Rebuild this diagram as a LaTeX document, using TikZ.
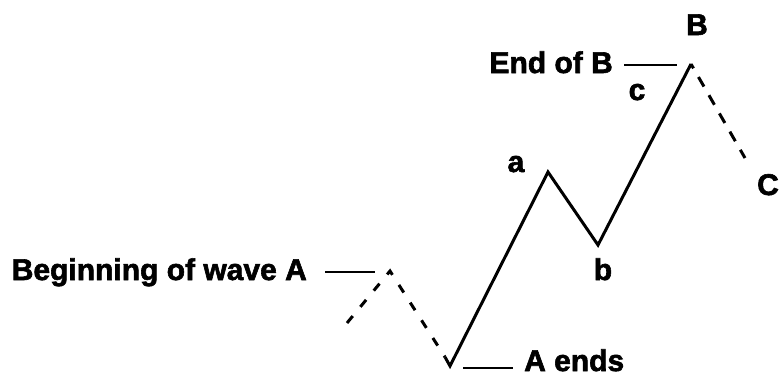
\documentclass[tikz,border=0pt]{standalone}
\usepackage{fontspec}
\setmainfont{Liberation Sans}
\newfontfamily\heavyfont{Liberation Sans Bold}[FakeBold=2]
\begin{document}
\begin{tikzpicture}[x=1pt,y=-1pt,
  lbl/.style={font=\fontsize{30}{32}\heavyfont, inner sep=0pt},
  wave/.style={line width=3pt, line join=miter, line cap=butt},
  dwave/.style={wave, dash pattern=on 9pt off 12pt},
  tick/.style={line width=1.6pt}]
\useasboundingbox (0,0) rectangle (780,378);
% wave points
\coordinate (s0) at (347,323);
\coordinate (p0) at (390,271);
\coordinate (q0) at (445,357);
\coordinate (A) at (450,366);
\coordinate (a) at (548,172);
\coordinate (b) at (598,245);
\coordinate (B) at (691,64);
\coordinate (C) at (745,158);
% dashed parts
\draw[dwave] (s0) -- (p0) -- (q0);
\draw[wave, dash pattern=on 11pt off 10pt, dash phase=6pt] (B) -- (C);
% solid wave
\draw[wave] (q0) -- (A) -- (a) -- (b) -- (B);
% labels
\node[lbl, anchor=base east] (begA) at (307,280) {Beginning of wave A};
\coordinate (begL1) at (325,272);
\coordinate (begL2) at (375,272);
\draw[tick] (begL1) -- (begL2);
\node[lbl, anchor=base west] (endA) at (524,371) {A ends};
\coordinate (endL1) at (463,368);
\coordinate (endL2) at (513,368);
\draw[tick] (endL1) -- (endL2);
\node[lbl, anchor=base east] (endB) at (613,73) {End of B};
\coordinate (eBL1) at (624,65);
\coordinate (eBL2) at (677,65);
\draw[tick] (eBL1) -- (eBL2);
\node[lbl, anchor=base] (lB) at (697,35) {B};
\node[lbl, anchor=base] (lc) at (637,100) {c};
\node[lbl, anchor=base] (la) at (516,172) {a};
\node[lbl, anchor=base] (lb) at (603,280) {b};
\node[lbl, anchor=base] (lC) at (768,195) {C};
\end{tikzpicture}
\end{document}
